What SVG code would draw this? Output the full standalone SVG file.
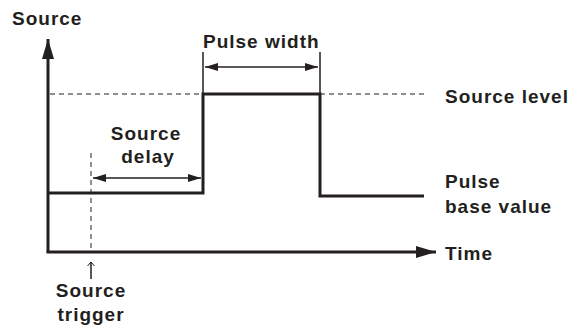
<svg xmlns="http://www.w3.org/2000/svg" width="573" height="329" viewBox="0 0 573 329">
<style>
text{font-family:"Liberation Sans",Arial,sans-serif;font-weight:bold;font-size:19px;fill:#231f20;letter-spacing:1px}
.ax{stroke:#231f20;stroke-width:3;fill:none}
.pl{stroke:#231f20;stroke-width:3;fill:none}
.dim{stroke:#231f20;stroke-width:1.5;fill:none}
.dash{stroke:#231f20;stroke-width:1;fill:none;stroke-dasharray:5 4}
.mid{text-anchor:middle}
</style>
<defs>
<marker id="big" markerWidth="22" markerHeight="12" refX="20" refY="6" orient="auto" markerUnits="userSpaceOnUse"><path d="M0,0 L20,6 L0,12 Z" fill="#231f20"/></marker>
<marker id="dm" markerWidth="14" markerHeight="8" refX="13" refY="4" orient="auto-start-reverse" markerUnits="userSpaceOnUse"><path d="M0,0 L13,4 L0,8 Z" fill="#231f20"/></marker>
<marker id="sm" markerWidth="8" markerHeight="8" refX="4" refY="1" orient="0" markerUnits="userSpaceOnUse"><path d="M0.5,5 L4,1 L7.5,5" fill="none" stroke="#231f20" stroke-width="1"/></marker>
</defs>
<g id="connectors">
<path class="ax" d="M48,252 L48,39" marker-end="url(#big)"/>
<path class="ax" d="M46.5,252 L436,252" marker-end="url(#big)"/>
<path class="dash" d="M50,94 L424,94"/>
<path class="pl" d="M48,193 L203,193 L203,94 L320,94 L320,196 L424,196"/>
<path class="dim" d="M203,52 L203,94 M320,52 L320,94"/>
<path class="dim" d="M205,67 L318,67" marker-start="url(#dm)" marker-end="url(#dm)"/>
<path class="dim" d="M93,178 L201,178" marker-start="url(#dm)" marker-end="url(#dm)"/>
<path class="dash" d="M91,153 L91,250" stroke-dasharray="6 3"/>
<path class="dim" d="M91,279 L91,262" stroke-width="1" marker-end="url(#sm)"/>
</g>
<g id="label-source"><text x="12" y="25">Source</text></g>
<g id="label-pulse-width"><text x="203" y="48">Pulse width</text></g>
<g id="label-source-level"><text x="445" y="103">Source level</text></g>
<g id="label-source-delay"><text class="mid" x="146" y="140">Source</text><text class="mid" x="148" y="163">delay</text></g>
<g id="label-pulse-base"><text x="445" y="188">Pulse</text><text x="445" y="213">base value</text></g>
<g id="label-time"><text x="445" y="260">Time</text></g>
<g id="label-source-trigger"><text class="mid" x="91" y="297">Source</text><text class="mid" x="91" y="321">trigger</text></g>
</svg>
